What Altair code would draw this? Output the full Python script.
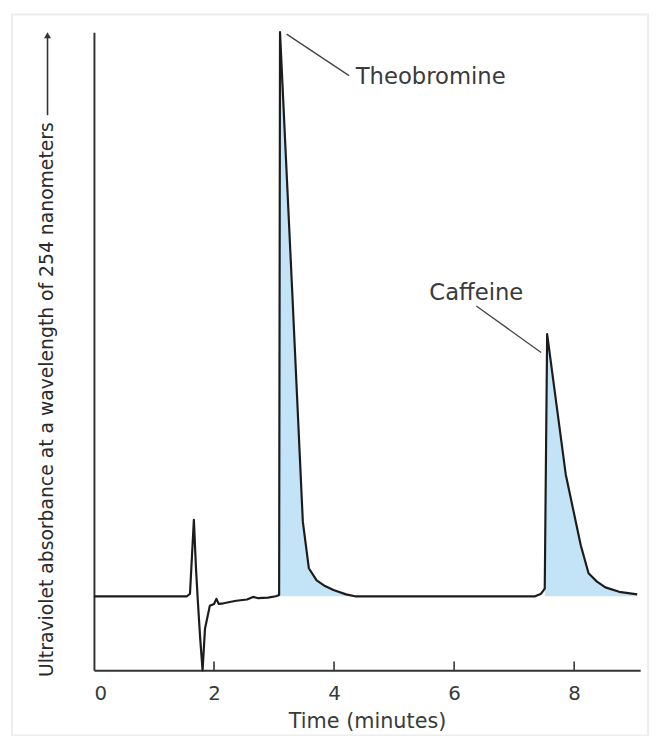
import altair as alt
import pandas as pd

# Chromatogram trace (time in minutes, relative absorbance)
time_min = [0.0, 1.55, 1.60, 1.665, 1.70, 1.73, 1.77, 1.81, 1.85, 1.93, 2.00, 2.04, 2.08, 2.16,
            2.37, 2.55, 2.65, 2.74, 2.90, 3.03, 3.085, 3.10, 3.30, 3.48, 3.58, 3.71, 3.85,
            3.99, 4.20, 4.35, 7.35, 7.45, 7.51, 7.55, 7.86, 8.11, 8.24, 8.38, 8.52, 8.75, 9.05]
absorbance = [11.6, 11.6, 12.0, 23.6, 16.0, 11.0, 5.0, 0.0, 6.5, 10.1, 10.4, 11.2, 10.4, 10.5,
              10.9, 11.1, 11.5, 11.3, 11.4, 11.6, 11.8, 100.0, 60.0, 23.3, 16.0, 14.1, 13.2,
              12.6, 11.9, 11.6, 11.6, 12.0, 12.8, 52.7, 30.7, 19.6, 15.2, 13.9, 13.0, 12.3, 11.9]
baseline_level = 11.6

# shaded peaks (start, end)
peak_names = ["Theobromine", "Caffeine"]
peak_start = [3.085, 7.51]
peak_end = [4.35, 9.05]

x_ticks = [0, 2, 4, 6, 8]
inner_ticks = [2, 4, 6, 8]

# annotation labels and leader lines
label_text = ["Theobromine", "Caffeine"]
label_t = [4.36, 6.37]
label_v = [93.0, 59.1]
label_align = ["left", "center"]
leader_t1 = [3.21, 6.37]
leader_v1 = [99.7, 57.1]
leader_t2 = [4.25, 7.45]
leader_v2 = [93.2, 49.8]

W, H = 553, 646
TEXT = "#3a3a3a"

trace = pd.DataFrame({"t": time_min, "v": absorbance})
segs = []
for name, a, b in zip(peak_names, peak_start, peak_end):
    s = trace[(trace.t >= a) & (trace.t <= b)].copy()
    s["peak"] = name
    segs.append(s)
shade = pd.concat(segs)

xs = alt.Scale(domain=[0, 9.1], nice=False, zero=False)
ys = alt.Scale(domain=[0, 100], nice=False, zero=False)

x_axis = alt.Axis(values=x_ticks, format="d", ticks=False, grid=False, domainColor="#333",
                  domainWidth=2, labelFont="DejaVu Sans", labelFontSize=20,
                  labelColor=TEXT, labelPadding=14, title="Time (minutes)",
                  titleFont="DejaVu Sans", titleFontSize=21, titleFontWeight="normal",
                  titleColor=TEXT, titlePadding=7)
y_axis = alt.Axis(labels=False, ticks=False, grid=False, domainColor="#333",
                  domainWidth=2, title=None)

area = alt.Chart(shade).mark_area(color="#c3e4f6", opacity=1, interpolate="linear").encode(
    x=alt.X("t:Q", scale=xs, axis=x_axis),
    y=alt.Y("v:Q", scale=ys, axis=y_axis),
    y2=alt.datum(baseline_level),
    detail="peak:N",
)

line = alt.Chart(trace).mark_line(color="#1c1c1c", strokeWidth=2.2, strokeJoin="round").encode(
    x=alt.X("t:Q", scale=xs),
    y=alt.Y("v:Q", scale=ys),
)

tick_df = pd.DataFrame({"t": inner_ticks})
ticks = alt.Chart(tick_df).mark_rule(color="#333", strokeWidth=1.6).encode(
    x=alt.X("t:Q", scale=xs),
    y=alt.value(H - 9),
    y2=alt.value(H),
)

lead_df = pd.DataFrame({"t1": leader_t1, "v1": leader_v1, "t2": leader_t2, "v2": leader_v2})
leaders = alt.Chart(lead_df).mark_rule(color="#444", strokeWidth=1.3).encode(
    x=alt.X("t1:Q", scale=xs), y=alt.Y("v1:Q", scale=ys),
    x2="t2:Q", y2="v2:Q",
)

lab_df = pd.DataFrame({"t": label_t, "v": label_v, "txt": label_text, "al": label_align})
labels_left = alt.Chart(lab_df[lab_df.al == "left"]).mark_text(
    align="left", baseline="middle", font="DejaVu Sans", fontSize=23, color=TEXT
).encode(x=alt.X("t:Q", scale=xs), y=alt.Y("v:Q", scale=ys), text="txt:N")
labels_center = alt.Chart(lab_df[lab_df.al == "center"]).mark_text(
    align="center", baseline="middle", font="DejaVu Sans", fontSize=23, color=TEXT
).encode(x=alt.X("t:Q", scale=xs), y=alt.Y("v:Q", scale=ys), text="txt:N")

ytitle_df = pd.DataFrame({"txt": ["Ultraviolet absorbance at a wavelength of 254 nanometers"]})
ytitle = alt.Chart(ytitle_df).mark_text(
    angle=270, align="center", baseline="middle",
    font="DejaVu Sans", fontSize=19, color="#2a2a2a"
).encode(x=alt.value(-47), y=alt.value(372), text="txt:N")

arrow_line = alt.Chart(ytitle_df).mark_rule(color="#333", strokeWidth=1.6).encode(
    x=alt.value(-47), y=alt.value(84), y2=alt.value(5)
)
arrow_head = alt.Chart(ytitle_df).mark_point(
    shape="triangle-up", filled=True, color="#333", size=50, opacity=1
).encode(x=alt.value(-47), y=alt.value(3))

frame = alt.Chart(ytitle_df).mark_rect(fill=None, stroke="#ededed", strokeWidth=2).encode(
    x=alt.value(-83), x2=alt.value(561), y=alt.value(-18), y2=alt.value(712)
)

chart = alt.layer(frame, area, line, ticks, leaders, labels_left, labels_center,
                  ytitle, arrow_line, arrow_head).properties(
    width=W, height=H,
    autosize=alt.AutoSizeParams(type="none"),
    padding={"left": 87, "top": 20, "right": 15, "bottom": 62},
    background="white",
).configure_view(stroke=None)

chart.save("out.html", embed_options={"renderer": "svg", "actions": False})
